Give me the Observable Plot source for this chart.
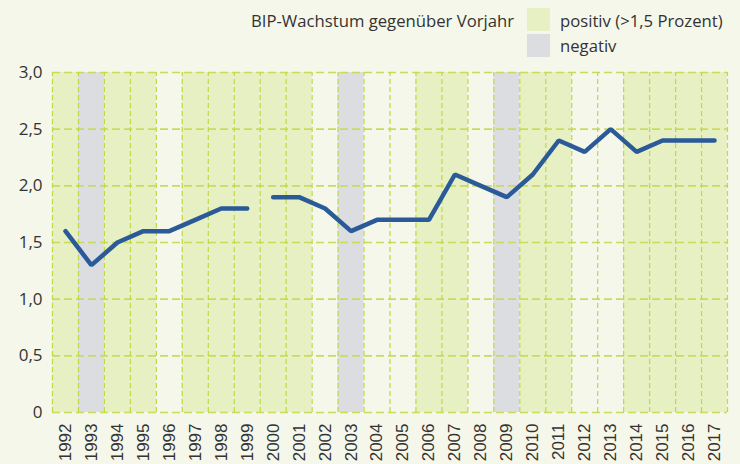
<!DOCTYPE html>
<html><head><meta charset="utf-8">
<script src="https://cdn.jsdelivr.net/npm/d3@7"></script>
<script src="https://cdn.jsdelivr.net/npm/@observablehq/plot@0.6"></script>
<style>
html,body{margin:0;padding:0;background:#f5f7ea;}
#wrap{position:relative;width:740px;height:464px;}
#legend{position:absolute;left:0;top:0;width:740px;height:64px;font-family:"Open Sans",sans-serif;font-size:16.7px;color:#333;}
.lt{position:absolute;white-space:nowrap;line-height:20px;}
.sw{position:absolute;width:23px;height:23px;}
</style>
</head><body>
<div id="wrap">
<div id="chart"></div>
<div id="legend">
  <div class="lt" style="left:251px;top:11px;">BIP-Wachstum gegenüber Vorjahr</div>
  <div class="sw" style="left:527px;top:8px;background:#e7f0c3;"></div>
  <div class="lt" style="left:560px;top:11px;">positiv (&gt;1,5 Prozent)</div>
  <div class="sw" style="left:527px;top:34px;background:#dcdde0;"></div>
  <div class="lt" style="left:560px;top:36px;">negativ</div>
</div>
</div>
<script>
const years = [1992,1993,1994,1995,1996,1997,1998,1999,2000,2001,2002,2003,2004,2005,2006,2007,2008,2009,2010,2011,2012,2013,2014,2015,2016,2017];
const growth = [1.6,1.3,1.5,1.6,1.6,1.7,1.8,1.8,1.9,1.9,1.8,1.6,1.7,1.7,1.7,2.1,2.0,1.9,2.1,2.4,2.3,2.5,2.3,2.4,2.4,2.4];
// "pos" = positiv (>1,5 Prozent), "neg" = negativ, "" = neither
const status = ["pos","neg","pos","pos","","pos","pos","pos","pos","pos","","neg","","","pos","pos","","neg","pos","pos","","","pos","pos","pos","pos"];
const breakAfter = 1999;
const yTicks = [0,0.5,1,1.5,2,2.5,3];

const data = years.map((y,i)=>({year:y, value:growth[i], status:status[i], seg: y<=breakAfter ? "a" : "b"}));
const boundaries = years.map(y=>y-0.5).concat([years[years.length-1]+0.5]);
const fmt = d => d===0 ? "0" : d.toFixed(1).replace(".",",");

const plot = Plot.plot({
  width:740, height:464,
  marginLeft:52, marginRight:13, marginTop:72, marginBottom:52,
  style:{background:"transparent", color:"#333"},
  x:{type:"linear", domain:[years[0]-0.5, years[years.length-1]+0.5], label:null},
  y:{domain:[0,3], label:null},
  marks:[
    Plot.rectY(data.filter(d=>d.status), {x1:d=>d.year-0.5, x2:d=>d.year+0.5, y1:0, y2:3,
      fill:d=>d.status==="neg" ? "#dcdde0" : "#e7f0c3", inset:0}),
    Plot.ruleY(yTicks, {stroke:"#cadb5c", strokeWidth:1.6, strokeDasharray:"8,4"}),
    Plot.ruleX(boundaries, {y1:0, y2:3, stroke:"#c2d83a", strokeWidth:1.2, strokeDasharray:"5,3"}),
    Plot.line(data, {x:"year", y:"value", z:"seg", stroke:"#2a5a97", strokeWidth:4.5, strokeLinecap:"round", strokeLinejoin:"miter"}),
    Plot.axisY(yTicks, {tickSize:0, tickPadding:10, tickFormat:fmt, fontSize:17, fontFamily:"Open Sans", fill:"#333", label:null}),
    Plot.axisX(years, {tickSize:0, tickPadding:11, tickRotate:-90, tickFormat:d=>String(d), fontSize:17, fontFamily:"Liberation Sans", fill:"#333", label:null})
  ]
});
document.getElementById("chart").appendChild(plot);
</script>
</body></html>
